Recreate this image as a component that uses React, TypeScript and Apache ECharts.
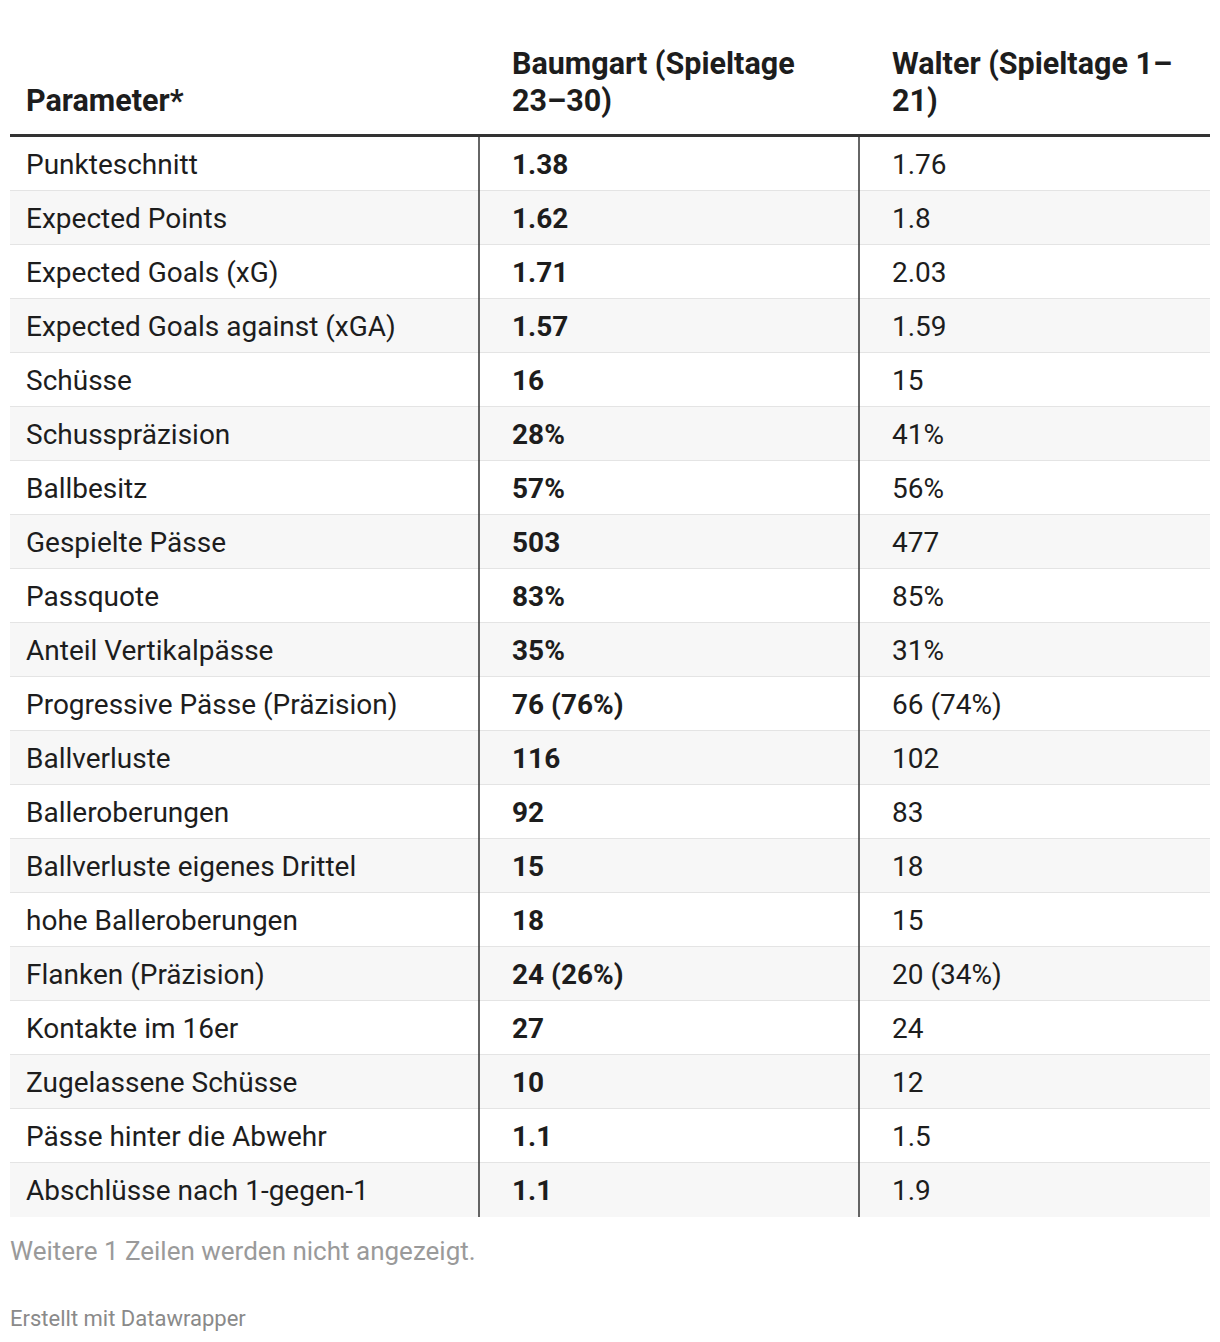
import React, { useEffect, useRef } from "react";
import * as echarts from "echarts";

const parameters = [
  "Punkteschnitt",
  "Expected Points",
  "Expected Goals (xG)",
  "Expected Goals against (xGA)",
  "Schüsse",
  "Schusspräzision",
  "Ballbesitz",
  "Gespielte Pässe",
  "Passquote",
  "Anteil Vertikalpässe",
  "Progressive Pässe (Präzision)",
  "Ballverluste",
  "Balleroberungen",
  "Ballverluste eigenes Drittel",
  "hohe Balleroberungen",
  "Flanken (Präzision)",
  "Kontakte im 16er",
  "Zugelassene Schüsse",
  "Pässe hinter die Abwehr",
  "Abschlüsse nach 1-gegen-1",
];

const baumgart = [
  "1.38", "1.62", "1.71", "1.57", "16", "28%", "57%", "503", "83%", "35%",
  "76 (76%)", "116", "92", "15", "18", "24 (26%)", "27", "10", "1.1", "1.1",
];

const walter = [
  "1.76", "1.8", "2.03", "1.59", "15", "41%", "56%", "477", "85%", "31%",
  "66 (74%)", "102", "83", "18", "15", "20 (34%)", "24", "12", "1.5", "1.9",
];

const headers = ["Parameter*", "Baumgart (Spieltage\n23–30)", "Walter (Spieltage 1–\n21)"];
const footnote = "Weitere 1 Zeilen werden nicht angezeigt.";
const credit = "Erstellt mit Datawrapper";

// layout constants
const W = 1220;
const H = 1342;
const TABLE_LEFT = 10;
const TABLE_WIDTH = 1200;
const TABLE_TOP = 137;
const ROW_H = 54;
const COL_EDGES = [0, 469, 849, 1200];
const COL_PAD = [16, 33, 33];
const FONT = "Roboto, 'Noto Sans', sans-serif";
const TEXT_COLOR = "#1d1d1d";

export default function App() {
  const ref = useRef<HTMLDivElement>(null);

  useEffect(() => {
    if (!ref.current) return;
    const chart = echarts.init(ref.current, null, { renderer: "svg" });
    const columns = [parameters, baumgart, walter];
    const cellText: string[] = [];
    const data: number[][] = [];
    parameters.forEach((_, r) => {
      for (let c = 0; c < 3; c++) {
        data.push([c, r]);
        cellText.push(columns[c][r]);
      }
    });
    const nRows = parameters.length;

    const renderItem = (params: any, api: any) => {
      const c = api.value(0) as number;
      const r = api.value(1) as number;
      const [x0, yc] = api.coord([COL_EDGES[c], r]);
      const [x1] = api.coord([COL_EDGES[c + 1], r]);
      const h = api.size([0, 1])[1];
      const top = yc - h / 2;
      const bottom = yc + h / 2;
      const children: any[] = [
        {
          type: "rect",
          shape: { x: x0, y: top, width: x1 - x0, height: h },
          style: { fill: r % 2 === 1 ? "#f7f7f7" : "#ffffff" },
        },
      ];
      if (r < nRows - 1) {
        children.push({
          type: "line",
          shape: { x1: x0, y1: bottom, x2: x1, y2: bottom },
          style: { stroke: "#e4e4e4", lineWidth: 2 },
        });
      }
      if (c > 0) {
        children.push({
          type: "line",
          shape: { x1: x0, y1: top, x2: x0, y2: bottom },
          style: { stroke: "#333333", lineWidth: 1.5 },
        });
      }
      children.push({
        type: "text",
        style: {
          text: cellText[params.dataIndex],
          x: x0 + COL_PAD[c],
          y: yc,
          verticalAlign: "middle",
          align: "left",
          fill: TEXT_COLOR,
          fontFamily: FONT,
          fontSize: 28,
          fontWeight: c === 1 ? "bold" : "normal",
        },
      });
      return { type: "group", children };
    };

    const graphic: any[] = [];
    headers.forEach((hd, c) => {
      const lines = hd.split("\n");
      graphic.push({
        type: "text",
        left: TABLE_LEFT + COL_EDGES[c] + COL_PAD[c],
        top: 100 + 13 - lines.length * 37 + 37 - 31,
        style: {
          text: hd,
          fill: TEXT_COLOR,
          fontFamily: FONT,
          fontSize: 30.5,
          fontWeight: "bold",
          lineHeight: 37,
        },
      });
    });
    graphic.push({
      type: "rect",
      shape: { x: TABLE_LEFT, y: TABLE_TOP - 3, width: TABLE_WIDTH, height: 3 },
      style: { fill: "#333333" },
    });
    graphic.push({
      type: "text",
      left: TABLE_LEFT,
      top: 1238,
      style: { text: footnote, fill: "#9a9a9a", fontFamily: FONT, fontSize: 26 },
    });
    graphic.push({
      type: "text",
      left: TABLE_LEFT,
      top: 1307,
      style: { text: credit, fill: "#8a8a8a", fontFamily: FONT, fontSize: 22 },
    });

    chart.setOption({
      animation: false,
      backgroundColor: "#ffffff",
      grid: {
        left: TABLE_LEFT,
        top: TABLE_TOP,
        width: TABLE_WIDTH,
        height: ROW_H * nRows,
      },
      xAxis: {
        type: "value",
        min: 0,
        max: COL_EDGES[3],
        show: false,
      },
      yAxis: {
        type: "category",
        data: parameters,
        inverse: true,
        show: false,
      },
      series: [
        {
          type: "custom",
          renderItem,
          data,
          encode: { x: 0, y: 1 },
          clip: false,
          silent: true,
        },
      ],
      graphic,
    });
    return () => chart.dispose();
  }, []);

  return (
    <div
      ref={ref}
      style={{ position: "fixed", left: 0, top: 0, width: W, height: H }}
    />
  );
}
